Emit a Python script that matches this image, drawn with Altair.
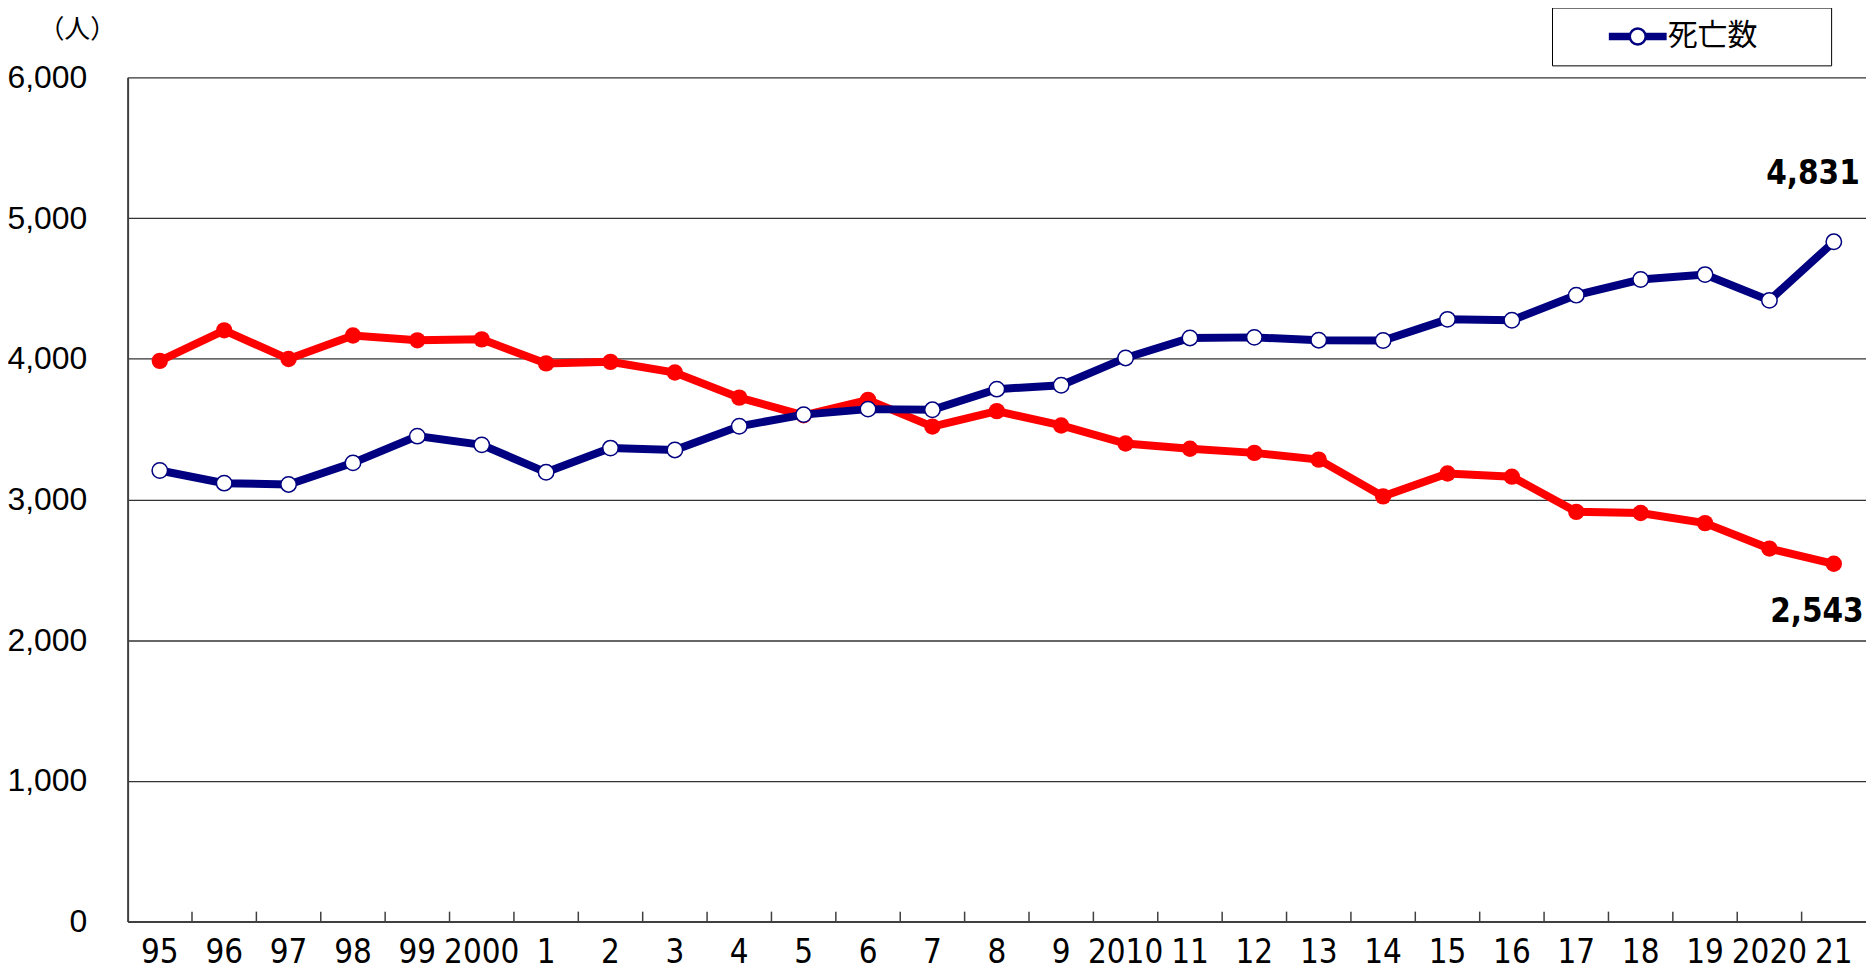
import altair as alt
import pandas as pd

years = ["95", "96", "97", "98", "99", "2000", "1", "2", "3", "4", "5", "6", "7", "8", "9",
         "2010", "11", "12", "13", "14", "15", "16", "17", "18", "19", "2020", "21"]
deaths = [3206, 3116, 3107, 3260, 3450, 3388, 3193, 3365, 3352, 3520, 3603, 3642, 3637, 3784, 3812,
          4006, 4148, 4152, 4132, 4130, 4280, 4274, 4452, 4563, 4598, 4415, 4831]
other = [3985, 4202, 3998, 4165, 4131, 4138, 3967, 3978, 3902, 3724, 3598, 3708, 3518, 3628, 3526,
         3398, 3360, 3331, 3283, 3022, 3185, 3162, 2912, 2904, 2832, 2651, 2543]
y_ticks = [0, 1000, 2000, 3000, 4000, 5000, 6000]
legend_name = "死亡数"
unit_label = "（人）"

NAVY = "#000080"
RED = "#FF0000"
W, H = 1744, 847
COND = "'DejaVu Sans Condensed', 'Liberation Sans'"

df_blue = pd.DataFrame({"year": years, "value": deaths, "series": legend_name})
df_red = pd.DataFrame({"year": years, "value": other})
df_ticks = pd.DataFrame({"year": years[1:]})
df_end = pd.DataFrame({
    "year": [years[-1], years[-1]],
    "value": [deaths[-1], other[-1]],
    "label": [f"{deaths[-1]:,}", f"{other[-1]:,}"],
    "which": ["blue", "red"],
})

x_enc = alt.X(
    "year:N", sort=years, title=None,
    scale=alt.Scale(paddingInner=0, paddingOuter=0),
    axis=alt.Axis(
        labelFont=COND, labelFontSize=33, labelColor="#000", labelAngle=0,
        labelBaseline="bottom", labelPadding=48, labelOverlap=False,
        ticks=False, tickSize=0, domainColor="#404040", domainWidth=2, grid=False,
    ),
)
y_enc = alt.Y(
    "value:Q", title=unit_label,
    scale=alt.Scale(domain=[0, 6000], nice=False),
    axis=alt.Axis(
        values=y_ticks, format=",d", labelFont="Liberation Sans", labelFontSize=32,
        labelColor="#000", labelPadding=41, ticks=False, tickSize=0,
        domainColor="#404040", domainWidth=2, gridColor="#333333", gridWidth=1.3,
        titleFont="Noto Sans CJK JP", titleFontSize=26, titleFontWeight="normal",
        titleColor="#000", titleAngle=0, titleAlign="center", titleBaseline="middle",
        titleX=-51, titleY=-48,
    ),
)

red_line = alt.Chart(df_red).mark_line(color=RED, strokeWidth=8).encode(x=x_enc, y=y_enc)
red_pts = alt.Chart(df_red).mark_point(filled=True, color=RED, size=270, opacity=1).encode(x=x_enc, y=y_enc)

sym_path = ("M-2.9,-0.25H-0.8M-2.9,0H-0.8M-2.9,0.25H-0.8"
            "M0.8,-0.25H2.9M0.8,0H2.9M0.8,0.25H2.9"
            "M-0.8,0A0.8,0.8,0,1,1,0.8,0A0.8,0.8,0,1,1,-0.8,0Z")

blue_line = alt.Chart(df_blue).mark_line(strokeWidth=8).encode(
    x=x_enc, y=y_enc,
    color=alt.Color(
        "series:N", title=None,
        scale=alt.Scale(domain=[legend_name], range=[NAVY]),
        legend=alt.Legend(
            orient="none", legendX=1429, legendY=-70, padding=14,
            strokeColor="#000", fillColor="#FFF",
            symbolType=sym_path, symbolSize=400, symbolStrokeWidth=2.5,
            symbolFillColor="#FFF", symbolOffset=57,
            labelOffset=15, labelFont="Noto Sans CJK JP", labelFontSize=30,
            labelLimit=400, labelColor="#000",
            labelExpr="datum.label + '\u3000\u3000\u200b'",
        ),
    ),
)
blue_pts = alt.Chart(df_blue).mark_point(
    filled=True, fill="#FFF", stroke=NAVY, strokeWidth=1.5, size=240, opacity=1
).encode(x=x_enc, y=y_enc)

ticks = alt.Chart(df_ticks).mark_rule(color="#404040", strokeWidth=1.5).encode(
    x=alt.X("year:N", sort=years, bandPosition=0),
    y=alt.value(H), y2=alt.value(H - 10),
)

end_blue = alt.Chart(df_end[df_end.which == "blue"]).mark_text(
    align="right", baseline="alphabetic", dx=26, dy=-58,
    font=COND, fontSize=33, fontWeight="bold", color="#000",
).encode(x=x_enc, y=y_enc, text="label:N")
end_red = alt.Chart(df_end[df_end.which == "red"]).mark_text(
    align="right", baseline="alphabetic", dx=30, dy=58,
    font=COND, fontSize=33, fontWeight="bold", color="#000",
).encode(x=x_enc, y=y_enc, text="label:N")

chart = alt.layer(
    red_line, red_pts, blue_line, blue_pts, ticks, end_blue, end_red
).properties(
    width=W, height=H,
    autosize=alt.AutoSizeParams(type="none"),
    padding={"left": 120, "top": 68, "right": 0, "bottom": 49},
    background="#FFFFFF",
).configure_view(strokeWidth=0)

chart.save("out.html", embed_options={"renderer": "svg", "actions": False})
